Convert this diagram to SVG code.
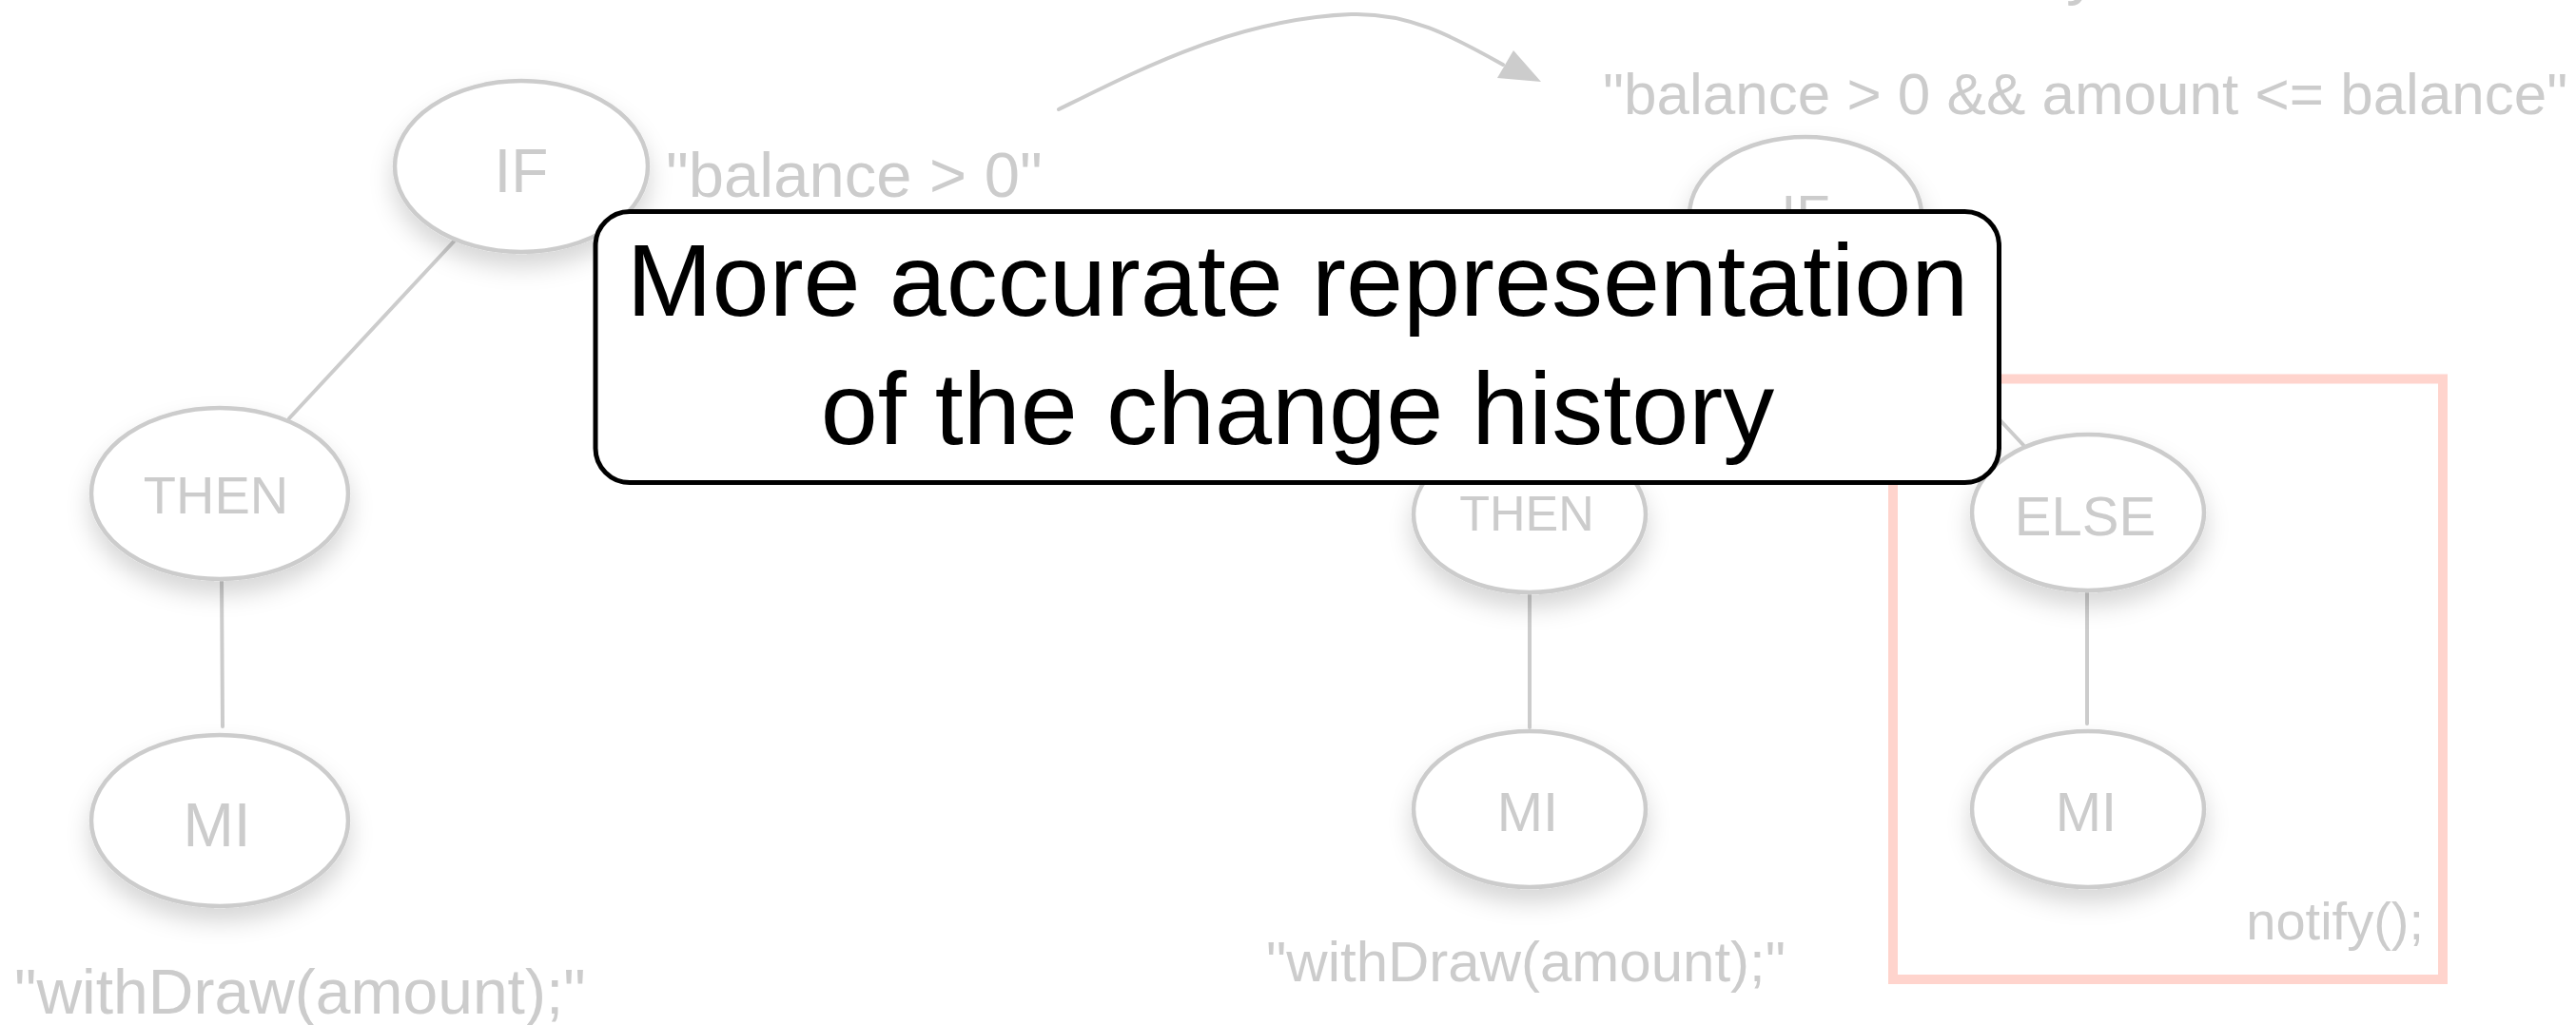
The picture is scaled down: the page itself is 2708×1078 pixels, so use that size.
<svg xmlns="http://www.w3.org/2000/svg" width="2708" height="1078" viewBox="0 0 2708 1078">
  <defs>
    <filter id="soft" x="-40%" y="-40%" width="180%" height="200%">
      <feDropShadow dx="0" dy="14" stdDeviation="12" flood-color="#000" flood-opacity="0.16"/>
    </filter>
  </defs>
  <style>
    .node ellipse { fill: #ffffff; stroke: #cccccc; stroke-width: 4.5; filter: url(#soft); }
    .lbl { font-family: "Liberation Sans", Arial, sans-serif; fill: #cccccc; text-anchor: middle; }
    .code { font-family: "Liberation Sans", Arial, sans-serif; fill: #cccccc; }
    .edge { stroke: #cccccc; stroke-width: 4; fill: none; stroke-linecap: round; }
    .callout { font-family: "Liberation Sans", Arial, sans-serif; fill: #000000; font-size: 108px; text-anchor: middle; }
  </style>

  <rect width="2708" height="1078" fill="#ffffff"/>

  <!-- fragment of a heading that runs off the top edge -->
  <text class="code" x="2172" y="-9" font-size="70">y</text>

  <!-- edges -->
  <g id="connectors">
    <line class="edge" x1="478" y1="253" x2="304" y2="440"/>
    <line class="edge" x1="233" y1="611" x2="234" y2="764"/>
    <line class="edge" x1="1830" y1="296" x2="1669" y2="466"/>
    <line class="edge" x1="1966" y1="296" x2="2127" y2="468"/>
    <line class="edge" x1="1608" y1="624" x2="1608" y2="765"/>
    <line class="edge" x1="2194" y1="622" x2="2194" y2="761"/>
    <path class="edge" d="M1113,115 C1200,72 1300,20 1420,15 C1480,13 1525,37 1580,68"/>
    <polygon points="1620,86 1574,82 1591,53" fill="#cccccc"/>
  </g>

  <!-- left tree -->
  <g id="l-if" class="node">
    <ellipse cx="548" cy="175" rx="133" ry="90"/>
    <text class="lbl" x="548" y="202" font-size="64">IF</text>
  </g>
  <text id="l-cond" class="code" x="700" y="207" font-size="67">"balance &gt; 0"</text>
  <g id="l-then" class="node">
    <ellipse cx="231" cy="519" rx="135" ry="90"/>
    <text class="lbl" x="227" y="540" font-size="56">THEN</text>
  </g>
  <g id="l-mi" class="node">
    <ellipse cx="231" cy="863" rx="135" ry="90"/>
    <text class="lbl" x="228" y="890" font-size="64">MI</text>
  </g>
  <text id="l-stmt" class="code" x="15" y="1066" font-size="66">"withDraw(amount);"</text>

  <!-- right tree -->
  <text id="r-cond" class="code" x="1685" y="120" font-size="62">"balance &gt; 0 &amp;&amp; amount &lt;= balance"</text>
  <g id="r-if" class="node">
    <ellipse cx="1898" cy="226" rx="122" ry="82"/>
    <text class="lbl" x="1898" y="246" font-size="58">IF</text>
  </g>
  <g id="r-then" class="node">
    <ellipse cx="1608" cy="541" rx="122" ry="82"/>
    <text class="lbl" x="1605" y="558" font-size="52">THEN</text>
  </g>
  <g id="r-then-mi" class="node">
    <ellipse cx="1608" cy="851" rx="122" ry="82"/>
    <text class="lbl" x="1606" y="874" font-size="58">MI</text>
  </g>
  <text id="r-stmt" class="code" x="1331" y="1032" font-size="60">"withDraw(amount);"</text>

  <!-- added else branch -->
  <g id="r-added">
    <rect x="1990" y="398.5" width="578" height="631.5" fill="none" stroke="#ffd4cd" stroke-width="10"/>
    <g id="r-else" class="node">
      <ellipse cx="2195" cy="539" rx="122" ry="82"/>
      <text class="lbl" x="2192" y="563" font-size="58">ELSE</text>
    </g>
    <g id="r-else-mi" class="node">
      <ellipse cx="2195" cy="851" rx="122" ry="82"/>
      <text class="lbl" x="2193" y="874" font-size="58">MI</text>
    </g>
    <text class="code" x="2548" y="988" font-size="56" text-anchor="end">notify();</text>
  </g>

  <!-- callout box -->
  <g id="callout">
    <rect x="626" y="222.5" width="1475.5" height="285" rx="36" fill="#ffffff" stroke="#000000" stroke-width="5"/>
    <text class="callout" x="1364" y="332">More accurate representation</text>
    <text class="callout" x="1364" y="467">of the change history</text>
  </g>
</svg>
